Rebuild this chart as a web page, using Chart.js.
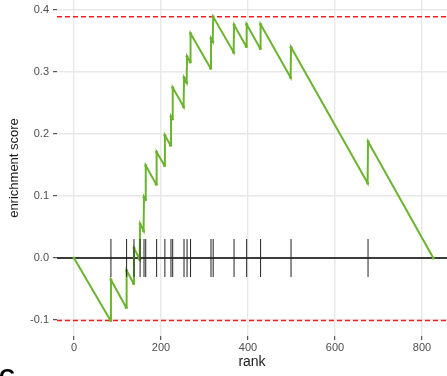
<!DOCTYPE html>
<html>
<head>
<meta charset="utf-8">
<script src="https://cdn.jsdelivr.net/npm/chart.js@4"></script>
<style>
  html, body { margin: 0; padding: 0; background: #fff; }
  #wrap { width: 447px; height: 376px; position: relative; }
</style>
</head>
<body>
<div id="wrap"><canvas id="esChart" width="447" height="376"></canvas></div>
<script>
// ranks of the pathway genes and the running score just before / after each hit
const hitRanks = [85, 121, 138, 152, 161, 165, 190, 209, 223, 227, 253, 260, 268, 315, 320, 368, 397, 429, 499, 676];
const esBottoms = [-0.101, -0.080, -0.041, -0.002, 0.044, 0.094, 0.119, 0.149, 0.182, 0.224, 0.244, 0.283, 0.316, 0.306, 0.349, 0.332, 0.341, 0.338, 0.291, 0.121];
const esTops = [-0.035, -0.020, 0.016, 0.055, 0.098, 0.149, 0.171, 0.198, 0.228, 0.275, 0.291, 0.325, 0.362, 0.354, 0.389, 0.376, 0.377, 0.377, 0.340, 0.188];
const geneCount = 825;

const xTicks = [0, 200, 400, 600, 800];
const yTicks = [-0.1, 0.0, 0.1, 0.2, 0.3, 0.4];

const xMin = -39, xMax = 857.5;
const yMin = -0.1258, yMax = 0.4161;

const green = "#6cb42f";
const tickFont = { family: "Liberation Sans", size: 11 };

// running enrichment score: 0, (rank-1, bottom), (rank, top) ..., back to 0
const curve = [{ x: 0, y: 0 }];
hitRanks.forEach((r, i) => {
  curve.push({ x: r - 1, y: esBottoms[i] });
  curve.push({ x: r, y: esTops[i] });
});
curve.push({ x: geneCount + 1, y: 0 });

const esMax = Math.max(...esTops);
const esMin = Math.min(...esBottoms);
const half = (esMax - esMin) / 16;

// one short vertical segment per hit, separated by gaps
const barcode = [];
hitRanks.forEach(r => {
  barcode.push({ x: r, y: -half }, { x: r, y: half }, { x: r, y: null });
});

function hline(y) {
  return [{ x: xMin, y: y }, { x: xMax, y: y }];
}

// bold panel letter sitting in the bottom-left corner
const panelLetter = {
  id: "panelLetter",
  afterDraw(chart) {
    const ctx = chart.ctx;
    ctx.save();
    ctx.fillStyle = "#000";
    ctx.font = "bold 22px 'Liberation Sans'";
    ctx.textBaseline = "top";
    ctx.fillText("C", -1, 367);
    ctx.restore();
  }
};

new Chart(document.getElementById("esChart"), {
  type: "line",
  data: {
    datasets: [
      {
        data: barcode,
        borderColor: "#222",
        borderWidth: 1,
        pointRadius: 0,
        spanGaps: false,
        order: 0
      },
      {
        data: curve,
        borderColor: green,
        backgroundColor: green,
        borderWidth: 2,
        pointRadius: 1.5,
        pointBorderWidth: 0,
        tension: 0,
        order: 1
      },
      {
        data: hline(0),
        borderColor: "#000",
        borderWidth: 1.3,
        pointRadius: 0,
        order: 2
      },
      {
        data: hline(esMax),
        borderColor: "#ff1a1a",
        borderWidth: 1.5,
        borderDash: [5, 3],
        pointRadius: 0,
        order: 3
      },
      {
        data: hline(esMin),
        borderColor: "#ff1a1a",
        borderWidth: 1.5,
        borderDash: [5, 3],
        pointRadius: 0,
        order: 3
      }
    ]
  },
  options: {
    responsive: false,
    animation: false,
    layout: { padding: 0, autoPadding: false },
    plugins: {
      legend: { display: false },
      tooltip: { enabled: false }
    },
    scales: {
      x: {
        type: "linear",
        min: xMin,
        max: xMax,
        afterBuildTicks: scale => { scale.ticks = xTicks.map(v => ({ value: v })); },
        afterFit: scale => {
          scale.height = 40;
          scale.paddingLeft = 0;
          scale.paddingRight = 0;
        },
        grid: { color: "#e8e8e8", lineWidth: 1.4, tickColor: "#333", tickLength: 4, tickWidth: 1 },
        border: { display: false },
        ticks: { font: tickFont, color: "#4d4d4d", padding: 1, maxRotation: 0 },
        title: {
          display: true,
          text: "rank",
          font: { family: "Liberation Sans", size: 14 },
          color: "#1a1a1a",
          padding: { top: 0, bottom: 5 }
        }
      },
      y: {
        min: yMin,
        max: yMax,
        afterBuildTicks: scale => { scale.ticks = yTicks.map(v => ({ value: v })); },
        afterFit: scale => {
          scale.width = 57;
          scale.paddingTop = 0;
          scale.paddingBottom = 0;
        },
        grid: { color: "#e8e8e8", lineWidth: 1.4, tickColor: "#333", tickLength: 4, tickWidth: 1 },
        border: { display: false },
        ticks: {
          font: tickFont,
          color: "#4d4d4d",
          padding: 4,
          callback: v => v.toFixed(1)
        },
        title: {
          display: true,
          text: "enrichment score",
          font: { family: "Liberation Sans", size: 13 },
          color: "#1a1a1a",
          padding: { top: 7, bottom: 0 }
        }
      }
    }
  },
  plugins: [panelLetter]
});
</script>
</body>
</html>
